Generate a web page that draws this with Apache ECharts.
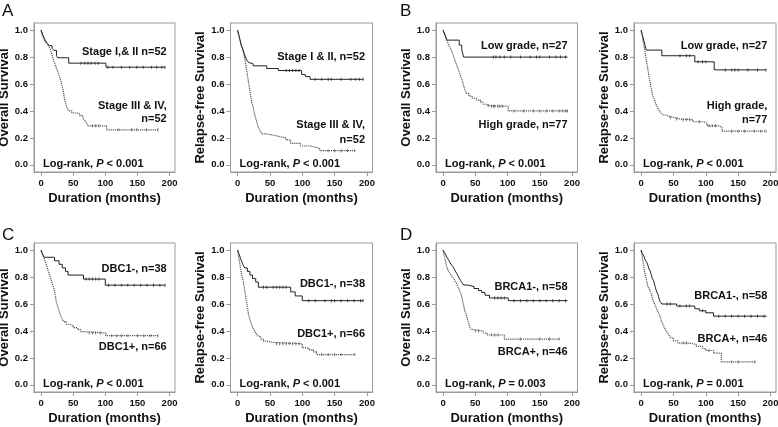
<!DOCTYPE html>
<html>
<head>
<meta charset="utf-8"/>
<title>Kaplan-Meier</title>
<script src="https://cdn.jsdelivr.net/npm/echarts@6/dist/echarts.min.js"></script>
</head>
<body style="margin:0;background:#fff">
<div id="main" style="width:778px;height:427px;"></div>
<script>
// tick labels
var xTicks = [0, 50, 100, 150, 200];
var yTicks = [0, 0.2, 0.4, 0.6, 0.8, 1.0];

// A: stage  (time in months, survival)
var osStageEarly = [[0,1],[1.5,0.98],[3,0.96],[5,0.94],[7,0.92],[10,0.9],[13,0.885],[17,0.865],[20,0.85],[24,0.81],[26,0.795],[43,0.755],[101,0.725],[193,0.725]];
var osStageEarlyCens = [62,68,73,78,84,89,104,112,125,138,149,159,172,180,188,193];
var osStageLate = [[0,1],[2,0.96],[4,0.94],[6,0.92],[9,0.9],[12,0.88],[15,0.85],[18,0.8],[20,0.77],[23,0.73],[26,0.69],[29,0.65],[31,0.62],[33,0.58],[35,0.54],[36,0.5],[38,0.46],[40,0.43],[43,0.4],[48,0.385],[56,0.38],[60,0.365],[65,0.345],[68,0.33],[71,0.31],[73,0.29],[102,0.26],[182,0.26]];
var osStageLateCens = [80,85,90,120,141,149,164,182];
var rfsStageEarly = [[0,1],[1,0.98],[2,0.96],[3,0.94],[4,0.92],[5,0.9],[6,0.88],[8,0.86],[10,0.83],[12,0.8],[14,0.78],[17,0.76],[20,0.75],[24,0.735],[45,0.715],[63,0.7],[99,0.67],[105,0.655],[112,0.635],[194,0.635]];
var rfsStageEarlyCens = [75,80,85,90,95,120,130,140,145,160,175,182,188,194];
var rfsStageLate = [[0,1],[1,0.98],[2,0.96],[3,0.94],[4,0.92],[5,0.9],[7,0.87],[9,0.83],[11,0.79],[12,0.76],[13,0.73],[14,0.7],[15,0.67],[16,0.64],[17,0.61],[18,0.58],[19,0.55],[20,0.52],[21,0.49],[22,0.46],[24,0.43],[25,0.4],[27,0.36],[29,0.33],[31,0.29],[33,0.27],[35,0.25],[38,0.23],[45,0.22],[55,0.21],[65,0.2],[75,0.185],[82,0.16],[97,0.14],[112,0.13],[122,0.12],[127,0.105],[181,0.105]];
var rfsStageLateCens = [140,150,160,170,181];

// B: grade
var osLow = [[0,1],[3,0.963],[6,0.926],[25,0.889],[29,0.852],[32,0.8],[193,0.8]];
var osLowCens = [78,82,88,95,105,120,135,145,150,165,175,182,190];
var osHigh = [[0,1],[1,0.987],[2,0.974],[3,0.96],[5,0.935],[7,0.91],[9,0.885],[12,0.86],[14,0.835],[16,0.81],[18,0.78],[20,0.755],[22,0.73],[24,0.7],[26,0.675],[28,0.65],[30,0.62],[32,0.585],[34,0.555],[36,0.53],[40,0.51],[45,0.495],[52,0.48],[58,0.465],[62,0.45],[66,0.44],[72,0.435],[101,0.4],[193,0.4]];
var osHighCens = [70,75,78,80,85,88,92,110,125,140,150,160,170,180,185,190,193];
var rfsLow = [[0,1],[2,0.963],[4,0.926],[6,0.889],[8,0.852],[32,0.81],[83,0.765],[113,0.705],[193,0.705]];
var rfsLowCens = [60,70,75,88,95,100,130,140,145,150,165,180,193];
var rfsHigh = [[0,1],[1,0.975],[2,0.95],[3,0.925],[4,0.9],[5,0.87],[6,0.84],[7,0.81],[8,0.78],[9,0.75],[10,0.72],[11,0.69],[12,0.66],[13,0.635],[14,0.61],[15,0.585],[16,0.56],[17,0.535],[18,0.51],[20,0.49],[22,0.465],[24,0.44],[26,0.42],[28,0.4],[31,0.385],[34,0.37],[38,0.36],[44,0.35],[52,0.34],[62,0.335],[80,0.32],[96,0.31],[102,0.29],[120,0.28],[125,0.25],[193,0.25]];
var rfsHighCens = [45,55,65,70,75,90,105,110,115,140,150,160,175,185,193];

// C: DBC1
var osDbcNeg = [[0,1],[2,0.974],[5,0.947],[21,0.921],[28,0.895],[33,0.868],[38,0.842],[42,0.815],[66,0.785],[100,0.74],[193,0.74]];
var osDbcNegCens = [70,75,80,85,90,105,115,125,135,145,155,165,175,185,193];
var osDbcPos = [[0,1],[1,0.985],[2,0.97],[3,0.955],[5,0.94],[7,0.91],[9,0.88],[11,0.85],[13,0.82],[15,0.79],[17,0.76],[19,0.73],[21,0.7],[22,0.67],[23,0.64],[24,0.61],[26,0.58],[28,0.55],[30,0.52],[32,0.5],[35,0.47],[39,0.45],[44,0.44],[50,0.425],[57,0.41],[62,0.395],[66,0.385],[101,0.365],[182,0.365]];
var osDbcPosCens = [75,80,85,92,110,118,125,135,150,160,170,182];
var rfsDbcNeg = [[0,1],[2,0.974],[4,0.947],[6,0.921],[8,0.895],[11,0.868],[15,0.842],[19,0.815],[23,0.789],[28,0.763],[32,0.725],[82,0.69],[89,0.66],[100,0.625],[194,0.625]];
var rfsDbcNegCens = [40,45,55,60,65,70,75,110,120,135,145,150,160,170,180,190,194];
var rfsDbcPos = [[0,1],[1,0.97],[2,0.94],[3,0.91],[4,0.88],[5,0.85],[6,0.82],[8,0.79],[9,0.76],[10,0.73],[11,0.7],[12,0.67],[13,0.64],[14,0.61],[15,0.58],[16,0.55],[17,0.52],[18,0.5],[20,0.47],[22,0.44],[24,0.42],[26,0.4],[29,0.38],[32,0.36],[36,0.34],[40,0.325],[45,0.315],[55,0.305],[100,0.275],[110,0.26],[117,0.245],[122,0.225],[181,0.225]];
var rfsDbcPosCens = [60,65,70,75,80,85,90,95,130,140,150,160,181];

// D: BRCA1
var osBrcaNeg = [[0,1],[2,0.983],[4,0.966],[6,0.948],[8,0.931],[10,0.914],[12,0.897],[15,0.879],[17,0.862],[19,0.845],[21,0.828],[23,0.81],[25,0.793],[27,0.776],[29,0.759],[32,0.741],[38,0.73],[48,0.715],[55,0.7],[60,0.685],[65,0.665],[72,0.645],[101,0.625],[193,0.625]];
var osBrcaNegCens = [80,85,90,95,110,120,130,140,150,160,170,180,190];
var osBrcaPos = [[0,1],[1,0.978],[2,0.957],[3,0.935],[4,0.913],[5,0.891],[6,0.87],[8,0.848],[11,0.826],[14,0.804],[17,0.783],[20,0.761],[22,0.739],[24,0.717],[26,0.696],[28,0.674],[29,0.652],[30,0.63],[31,0.609],[32,0.587],[33,0.565],[34,0.543],[36,0.522],[37,0.5],[38,0.478],[40,0.457],[41,0.435],[43,0.413],[44,0.4],[62,0.385],[68,0.37],[95,0.34],[180,0.34]];
var osBrcaPosCens = [50,55,75,80,85,120,150,165,180];
var rfsBrcaNeg = [[0,1],[1,0.983],[3,0.966],[5,0.948],[6,0.931],[8,0.914],[10,0.897],[11,0.879],[12,0.862],[14,0.845],[15,0.828],[16,0.81],[17,0.793],[19,0.776],[20,0.759],[21,0.741],[22,0.724],[23,0.707],[24,0.69],[26,0.672],[27,0.655],[28,0.638],[29,0.621],[32,0.6],[55,0.585],[83,0.565],[90,0.55],[100,0.535],[112,0.51],[194,0.51]];
var rfsBrcaNegCens = [40,45,60,70,75,95,120,130,140,150,160,170,180,190];
var rfsBrcaPos = [[0,1],[1,0.978],[2,0.935],[3,0.913],[4,0.891],[5,0.848],[6,0.826],[7,0.804],[8,0.783],[9,0.761],[10,0.739],[12,0.717],[14,0.696],[16,0.674],[17,0.652],[18,0.63],[20,0.609],[22,0.587],[24,0.565],[26,0.543],[28,0.522],[30,0.5],[31,0.478],[33,0.457],[35,0.435],[37,0.413],[40,0.391],[43,0.37],[46,0.348],[50,0.326],[57,0.31],[75,0.3],[85,0.285],[95,0.27],[100,0.255],[112,0.235],[124,0.17],[176,0.17]];
var rfsBrcaPosCens = [65,70,105,140,150,176];

var fam = '"Liberation Sans", Arial, sans-serif';
var boxL = [34, 230.5, 436, 634];
var boxW = [141, 142, 141.5, 142];
var boxT = [23, 243];
var boxH = 149;

var panels = [
    {r:0, c:0, yName:'Overall Survival', a:osStageEarly, ac:osStageEarlyCens, b:osStageLate, bc:osStageLateCens, p:'< 0.001', rOff:8.3,
     labels:[['Stage I,& II n=52',29.3],['Stage III & IV,',82.7],['n=52',95.7]]},
    {r:0, c:1, yName:'Relapse-free Survival', a:rfsStageEarly, ac:rfsStageEarlyCens, b:rfsStageLate, bc:rfsStageLateCens, p:'< 0.001', rOff:7.5,
     labels:[['Stage I & II, n=52',34.3],['Stage III & IV,',102.3],['n=52',116.7]]},
    {r:0, c:2, yName:'Overall Survival', a:osLow, ac:osLowCens, b:osHigh, bc:osHighCens, p:'< 0.001', rOff:10,
     labels:[['Low grade, n=27',22.7],['High grade, n=77',101.7]]},
    {r:0, c:3, yName:'Relapse-free Survival', a:rfsLow, ac:rfsLowCens, b:rfsHigh, bc:rfsHighCens, p:'< 0.001', rOff:8.7,
     labels:[['Low grade, n=27',22.7],['High grade,',83.3],['n=77',96.7]]},
    {r:1, c:0, yName:'Overall Survival', a:osDbcNeg, ac:osDbcNegCens, b:osDbcPos, bc:osDbcPosCens, p:'< 0.001', rOff:8.3,
     labels:[['DBC1-, n=38',25.7],['DBC1+, n=66',104.3]]},
    {r:1, c:1, yName:'Relapse-free Survival', a:rfsDbcNeg, ac:rfsDbcNegCens, b:rfsDbcPos, bc:rfsDbcPosCens, p:'< 0.001', rOff:7.5,
     labels:[['DBC1-, n=38',41],['DBC1+, n=66',90.7]]},
    {r:1, c:2, yName:'Overall Survival', a:osBrcaNeg, ac:osBrcaNegCens, b:osBrcaPos, bc:osBrcaPosCens, p:'= 0.003', rOff:10,
     labels:[['BRCA1-, n=58',44.3],['BRCA+, n=46',109.3]]},
    {r:1, c:3, yName:'Relapse-free Survival', a:rfsBrcaNeg, ac:rfsBrcaNegCens, b:rfsBrcaPos, bc:rfsBrcaPosCens, p:'= 0.001', rOff:8.7,
     labels:[['BRCA1-, n=58',52.7],['BRCA+, n=46',96]]}
];

// survival value of a step curve at time t
function survAt(curve, t) {
    var s = curve[0][1];
    for (var k = 0; k < curve.length; k++) {
        if (curve[k][0] <= t) s = curve[k][1];
    }
    return s;
}
function censPoints(curve, times) {
    return times.map(function (t) { return [t, survAt(curve, t)]; });
}

var grids = [], xAxes = [], yAxes = [], series = [], graphics = [];
var tickStyle = {color: '#999', width: 1};
var labelStyle = {fontSize: 9.5, fontWeight: 'bold', color: '#111', fontFamily: fam};
var nameStyle = {fontSize: 13, fontWeight: 'bold', color: '#111', fontFamily: fam};

panels.forEach(function (pn, i) {
    var L = boxL[pn.c], W = boxW[pn.c], T = boxT[pn.r];
    grids.push({left: L, top: T, width: W, height: boxH, show: true, borderColor: '#999', borderWidth: 1,
        containLabel: false, outerBoundsMode: 'none'});
    xAxes.push({
        gridIndex: i, type: 'value', min: -11, max: 208.5,
        axisLine: {show: true, onZero: false, lineStyle: tickStyle},
        axisTick: {show: true, customValues: xTicks, length: 4, lineStyle: tickStyle},
        axisLabel: Object.assign({customValues: xTicks, margin: 6}, labelStyle),
        splitLine: {show: false},
        name: 'Duration (months)', nameLocation: 'middle', nameGap: 20, nameTextStyle: nameStyle
    });
    yAxes.push({
        gridIndex: i, type: 'value', min: -0.053, max: 1.053,
        axisLine: {show: true, onZero: false, lineStyle: tickStyle},
        axisTick: {show: true, customValues: yTicks, length: 4, lineStyle: tickStyle},
        axisLabel: Object.assign({customValues: yTicks, margin: 6, formatter: function (v) { return v.toFixed(1); }}, labelStyle),
        splitLine: {show: false},
        name: pn.yName, nameLocation: 'middle', nameGap: 20, nameTextStyle: nameStyle
    });
    series.push({type: 'line', xAxisIndex: i, yAxisIndex: i, step: 'end', symbol: 'none', data: pn.b,
        lineStyle: {color: '#555', width: 1.2, type: [1.2, 0.9]}, silent: true});
    series.push({type: 'line', xAxisIndex: i, yAxisIndex: i, step: 'end', symbol: 'none', data: pn.a,
        lineStyle: {color: '#222', width: 1}, silent: true});
    series.push({type: 'scatter', xAxisIndex: i, yAxisIndex: i, symbol: 'rect', symbolSize: [1, 3],
        data: censPoints(pn.b, pn.bc), itemStyle: {color: '#555'}, silent: true});
    series.push({type: 'scatter', xAxisIndex: i, yAxisIndex: i, symbol: 'rect', symbolSize: [1, 3],
        data: censPoints(pn.a, pn.ac), itemStyle: {color: '#222'}, silent: true});

    pn.labels.forEach(function (lb) {
        graphics.push({type: 'text', x: L + W - pn.rOff, y: T + lb[1], silent: true,
            style: {text: lb[0], align: 'right', verticalAlign: 'middle', fill: '#111',
                font: 'bold 11px ' + fam}});
    });
    graphics.push({type: 'text', x: L + 9, y: T + 140.7, silent: true,
        style: {text: 'Log-rank, {i|P} ' + pn.p, align: 'left', verticalAlign: 'middle', fill: '#111',
            font: 'bold 11px ' + fam,
            rich: {i: {fontStyle: 'italic', fontWeight: 'bold', fontSize: 11, fontFamily: fam, fill: '#111'}}}});
});

// panel letters
[['A', 2, 11.5], ['B', 400, 11.5], ['C', 2, 235.5], ['D', 400, 235.5]].forEach(function (lt) {
    graphics.push({type: 'text', x: lt[1], y: lt[2], silent: true,
        style: {text: lt[0], align: 'left', verticalAlign: 'middle', fill: '#111', font: '17px ' + fam}});
});

var myChart = echarts.init(document.getElementById('main'), null, {renderer: 'canvas'});
myChart.setOption({
    animation: false,
    backgroundColor: '#fff',
    grid: grids,
    xAxis: xAxes,
    yAxis: yAxes,
    series: series,
    graphic: graphics
});
</script>
</body>
</html>
